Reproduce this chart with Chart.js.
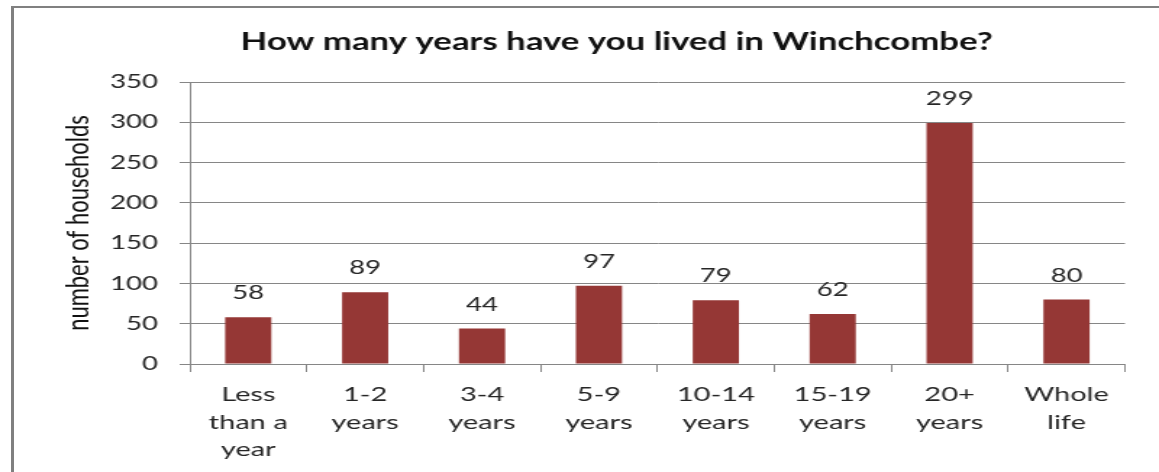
<!DOCTYPE html>
<html lang="en">
<head>
  <meta charset="UTF-8" />
  <title>How many years have you lived in Winchcombe?</title>
  <script src="https://cdn.jsdelivr.net/npm/chart.js"></script>
  <style>
    html, body { margin: 0; padding: 0; background: #fff; overflow: hidden; }
    body { width: 1159px; height: 472px; position: relative; }
    /* the original chart was pasted stretched sideways, so draw narrow and stretch */
    #wrap { position: absolute; left: 0; top: 0; width: 800px; height: 472px;
            transform: scaleX(1.44875); transform-origin: 0 0; }
    #frame { position: absolute; left: 11px; top: 6px; right: 0; height: 500px;
             border-left: 3px solid #808080; border-top: 2px solid #808080; pointer-events: none; }
  </style>
</head>
<body>
<div id="wrap"><canvas id="chart" width="800" height="472"></canvas></div>
<div id="frame"></div>
<script>
const categories = [
  ["Less", "than a", "year"],
  ["1-2", "years"],
  ["3-4", "years"],
  ["5-9", "years"],
  ["10-14", "years"],
  ["15-19", "years"],
  ["20+", "years"],
  ["Whole", "life"]
];
const households = [58, 89, 44, 97, 79, 62, 299, 80];
const yMin = 0, yMax = 350, yStep = 50;
const chartTitle = "How many years have you lived in Winchcombe?";

const FONT = "Lato, 'Open Sans', sans-serif";
const gridColor = "#868686";

// title sits a bit right of the canvas centre, like the excel original
const titlePlugin = {
  id: "offsetTitle",
  afterDraw(chart) {
    const ctx = chart.ctx;
    ctx.save();
    ctx.font = "bold 24px " + FONT;
    ctx.fillStyle = "#111";
    ctx.textAlign = "center";
    ctx.textBaseline = "middle";
    ctx.fillText(chartTitle, chart.width * 0.532, 42);
    ctx.restore();
  }
};

// values above each bar
const barLabels = {
  id: "barLabels",
  afterDatasetsDraw(chart) {
    const ctx = chart.ctx;
    const meta = chart.getDatasetMeta(0);
    ctx.save();
    ctx.font = "19px " + FONT;
    ctx.fillStyle = "#262626";
    ctx.textAlign = "center";
    ctx.textBaseline = "middle";
    meta.data.forEach((bar, i) => {
      ctx.fillText(String(households[i]), bar.x, bar.y - 24);
    });
    ctx.restore();
  }
};

new Chart(document.getElementById("chart"), {
  type: "bar",
  data: {
    labels: categories,
    datasets: [{
      data: households,
      backgroundColor: "#953735",
      borderWidth: 0,
      barPercentage: 0.395,
      categoryPercentage: 1
    }]
  },
  options: {
    responsive: false,
    devicePixelRatio: 1,
    animation: false,
    layout: { padding: { left: 0, right: 23.5, top: 82, bottom: 0 } },
    plugins: {
      legend: { display: false },
      tooltip: { enabled: false },
      title: { display: false }
    },
    scales: {
      x: {
        offset: true,
        afterFit: s => { s.height = 108; },
        grid: { offset: true, drawOnChartArea: false, drawTicks: true, tickLength: 8, color: gridColor },
        border: { color: gridColor },
        ticks: {
          color: "#262626",
          font: { family: FONT, size: 20, lineHeight: 1.38 },
          padding: 9,
          maxRotation: 0,
          autoSkip: false
        }
      },
      y: {
        min: yMin,
        max: yMax,
        afterFit: s => { s.width = 131; },
        grid: { color: gridColor, tickLength: 7 },
        border: { color: gridColor },
        ticks: {
          stepSize: yStep,
          color: "#262626",
          font: { family: FONT, size: 19 },
          padding: 15
        },
        title: {
          display: true,
          text: "number of households",
          color: "#111",
          font: { family: FONT, size: 22 },
          padding: { top: 41, bottom: 0 }
        }
      }
    }
  },
  plugins: [barLabels, titlePlugin]
});
</script>
</body>
</html>
